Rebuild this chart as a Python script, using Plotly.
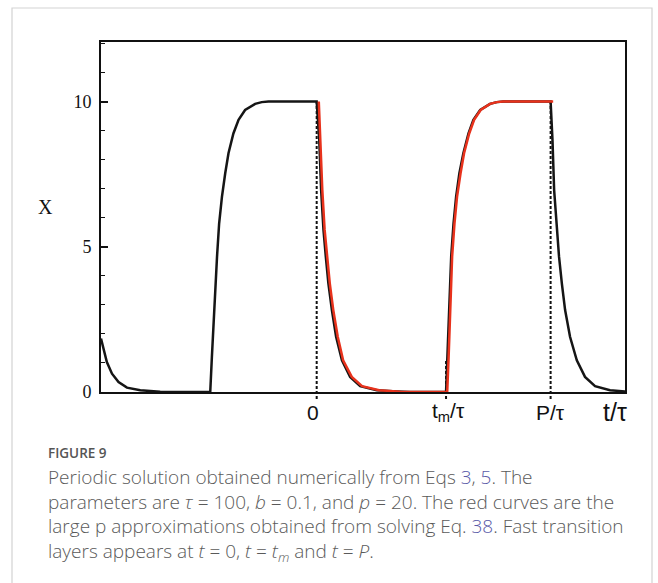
import plotly.graph_objects as go

# ---- data (t in units of the period P, x values) ----
T_ZERO = 0.0
T_M = 0.553
T_P = 1.0
X_MAX = 10.0
Y_TOP = 12.05
T_RANGE = [-0.922, 1.318]

black_t = [-0.922, -0.911, -0.897, -0.875, -0.847, -0.811, -0.754, -0.669, -0.605, -0.455,
           -0.448, -0.438, -0.426, -0.417, -0.405, -0.391, -0.377, -0.356, -0.334, -0.306,
           -0.263, -0.235, -0.206, 0.0,
           0.011, 0.019, 0.029, 0.039, 0.050, 0.065, 0.083, 0.108, 0.143, 0.186, 0.257, 0.343,
           0.400, 0.553,
           0.559, 0.566, 0.575, 0.585, 0.596, 0.610, 0.627, 0.649, 0.670, 0.699, 0.741, 0.770,
           0.798, 1.000,
           1.008, 1.015, 1.026, 1.036, 1.048, 1.062, 1.083, 1.112, 1.147, 1.190, 1.254, 1.311,
           1.318]
black_x = [1.84, 1.44, 1.03, 0.63, 0.34, 0.15, 0.06, 0.01, 0.0, 0.0,
           1.2, 2.93, 4.66, 5.8, 6.72, 7.53, 8.22, 8.9, 9.37, 9.71,
           9.92, 9.98, 10.0, 10.0,
           8.68, 6.96, 5.58, 4.66, 3.74, 2.82, 1.9, 1.09, 0.52, 0.2, 0.06, 0.02,
           0.0, 0.0,
           1.2, 2.93, 4.66, 5.8, 6.72, 7.53, 8.22, 8.9, 9.37, 9.71, 9.92, 9.98,
           10.0, 10.0,
           8.68, 6.96, 5.58, 4.66, 3.74, 2.82, 1.9, 1.09, 0.52, 0.2, 0.06, 0.02,
           0.02]

red_t = [0.009, 0.015, 0.024, 0.034, 0.045, 0.056, 0.071, 0.090, 0.113, 0.150, 0.194,
         0.267, 0.357, 0.442, 0.558,
         0.564, 0.571, 0.579, 0.589, 0.600, 0.615, 0.630, 0.652, 0.673, 0.701, 0.741,
         0.770, 0.797, 1.011]
red_x = [10.0, 8.68, 6.96, 5.58, 4.66, 3.74, 2.82, 1.9, 1.09, 0.52, 0.2,
         0.06, 0.01, 0.0, 0.0,
         1.2, 2.93, 4.66, 5.8, 6.72, 7.53, 8.22, 8.9, 9.37, 9.71, 9.92,
         9.98, 10.0, 10.0]

marker_t = [T_ZERO, T_M, T_P]
marker_top = [10.0, 1.1, 10.0]
marker_labels = ["0", "t<sub>m</sub>/τ", "P/τ"]
marker_shift = [-4, 2, 0]

y_ticks = [0, 5, 10]

caption_title = "FIGURE 9"
LINK = "#5a5aa8"
caption_lines = [
    "Periodic solution obtained numerically from Eqs "
    f"<span style='color:{LINK}'>3</span>, <span style='color:{LINK}'>5</span>. The",
    "parameters are <i>τ</i> = 100, <i>b</i> = 0.1, and <i>p</i> = 20. The red curves are the",
    "large p approximations obtained from solving Eq. "
    f"<span style='color:{LINK}'>38</span>. Fast transition",
    "layers appears at <i>t</i> = 0, <i>t</i> = <i>t<sub>m</sub></i> and <i>t</i> = <i>P</i>.",
]

# ---- figure ----
W, H = 658, 583
ML, MR, MT, MB = 101, 33, 42, 191
PW, PH = W - ML - MR, H - MT - MB

fig = go.Figure()
fig.add_trace(go.Scatter(x=black_t, y=black_x, mode="lines",
                         line=dict(color="#151515", width=2.5), hoverinfo="skip"))
fig.add_trace(go.Scatter(x=red_t, y=red_x, mode="lines",
                         line=dict(color="#e8321c", width=2.5), hoverinfo="skip"))

# dotted vertical markers
for t, top in zip(marker_t, marker_top):
    fig.add_shape(type="line", xref="x", yref="paper", x0=t, x1=t,
                  y0=-7 / PH, y1=top / Y_TOP,
                  line=dict(color="#111111", width=2, dash="3px,2px"), layer="below")

# x labels
for t, lab, sh in zip(marker_t, marker_labels, marker_shift):
    fig.add_annotation(x=t, xref="x", y=0, yref="paper", yshift=-20, xshift=sh,
                       text=lab, showarrow=False, xanchor="center", yanchor="middle",
                       font=dict(family="Liberation Sans, Arial", size=21, color="#111111"))
fig.add_annotation(x=1, xref="paper", y=0, yref="paper", yshift=-20, xshift=4,
                   text="t/τ", showarrow=False, xanchor="right", yanchor="middle",
                   font=dict(family="Liberation Sans, Arial", size=25, color="#111111"))

# y axis title
fig.add_annotation(x=0, xref="paper", y=0, yref="paper", xshift=45 - ML, yshift=PH - (207 - MT),
                   text="X", showarrow=False, xanchor="center", yanchor="middle",
                   font=dict(family="Liberation Serif, Times New Roman", size=20, color="#111111"))

# caption
fig.add_annotation(x=0, xref="paper", y=0, yref="paper", xshift=46 - ML, yshift=-(453 - (MT + PH)),
                   text=caption_title, showarrow=False, xanchor="left", yanchor="middle",
                   font=dict(family="Open Sans", size=13.5, color="#555555", weight=600))
fig.add_annotation(x=0, xref="paper", y=0, yref="paper", xshift=46 - ML,
                   yshift=-(515 - (MT + PH)),
                   text="<br>".join(caption_lines), showarrow=False,
                   xanchor="left", yanchor="middle", align="left",
                   font=dict(family="Open Sans", size=19, color="#5a5a5a", weight=300))

# outer light border
fig.add_shape(type="rect", xref="paper", yref="paper",
              x0=(12 - ML) / PW, x1=(652 - ML) / PW,
              y0=(MT + PH - 600) / PH, y1=(MT + PH - 8) / PH,
              line=dict(color="#d3d3d3", width=1.2), layer="below")

fig.update_xaxes(range=T_RANGE, showgrid=False, zeroline=False, showticklabels=False,
                 ticks="", showline=True, linecolor="#111111", linewidth=2, mirror=True)
fig.update_yaxes(range=[0, Y_TOP], showgrid=False, zeroline=False,
                 tickvals=y_ticks, ticks="inside", ticklen=7, tickwidth=1.5,
                 tickcolor="#111111", ticklabelstandoff=4,
                 tickfont=dict(family="Liberation Serif, Times New Roman", size=18, color="#111111"),
                 minor=dict(dtick=1, ticks="inside", ticklen=4, tickwidth=1.2, tickcolor="#111111"),
                 showline=True, linecolor="#111111", linewidth=2, mirror=True)

fig.update_layout(width=W, height=H, margin=dict(l=ML, r=MR, t=MT, b=MB),
                  paper_bgcolor="white", plot_bgcolor="white", showlegend=False)

fig.write_html("out.html")
